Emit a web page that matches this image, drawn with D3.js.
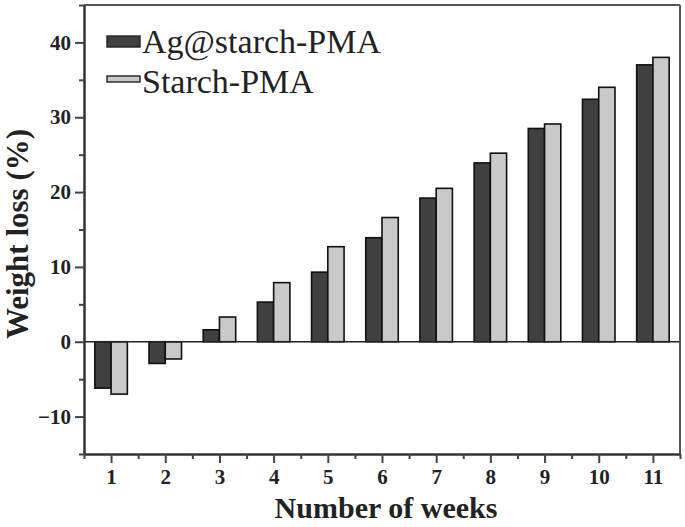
<!DOCTYPE html>
<html>
<head>
<meta charset="utf-8">
<script src="https://cdn.jsdelivr.net/npm/d3@7/dist/d3.min.js"></script>
<style>
html,body{margin:0;padding:0;background:#fff;}
svg{display:block;}
</style>
</head>
<body>
<svg id="chart" width="685" height="527"></svg>
<script>
// ---- data ----
const weeks = [1,2,3,4,5,6,7,8,9,10,11];
const seriesNames = ["Ag@starch-PMA", "Starch-PMA"];
const agStarchPMA = [-6.2, -2.9, 1.6, 5.3, 9.3, 13.9, 19.2, 23.9, 28.5, 32.4, 37.0];
const starchPMA   = [-7.0, -2.3, 3.3, 7.9, 12.7, 16.6, 20.5, 25.2, 29.1, 34.0, 38.0];
const yTicks = [-10, 0, 10, 20, 30, 40];
const yMinorTicks = [-15, -5, 5, 15, 25, 35, 45];
const xMinorTicks = [0.5, 1.5, 2.5, 3.5, 4.5, 5.5, 6.5, 7.5, 8.5, 9.5, 10.5, 11.5];
const xTitle = "Number of weeks";
const yTitle = "Weight loss (%)";

// ---- layout ----
const L = 84, R = 680, T = 5, B = 454;
const svg = d3.select("#chart");
const x = d3.scaleLinear().domain([0.5, 11.5]).range([L, R]);
const y = d3.scaleLinear().domain([-15, 45]).range([B, T]);
const barW = 0.3;
const colors = ["#404040", "#c9c9c9"];
const font = "'Liberation Serif', 'Times New Roman', serif";

const series = [agStarchPMA, starchPMA];

// bars
series.forEach((vals, si) => {
  svg.append("g").selectAll("rect")
    .data(weeks.map((w, i) => ({w, v: vals[i]})))
    .join("rect")
    .attr("x", d => x(si === 0 ? d.w - barW : d.w))
    .attr("width", x(barW) - x(0))
    .attr("y", d => y(Math.max(0, d.v)))
    .attr("height", d => Math.abs(y(d.v) - y(0)))
    .attr("fill", colors[si])
    .attr("stroke", "#111")
    .attr("stroke-width", 1.6);
});

// zero line
svg.append("line")
  .attr("x1", L).attr("x2", R).attr("y1", y(0)).attr("y2", y(0))
  .attr("stroke", "#222").attr("stroke-width", 1.6);

// frame top/right
svg.append("line").attr("x1", L).attr("x2", R).attr("y1", T).attr("y2", T)
  .attr("stroke", "#555").attr("stroke-width", 2);
svg.append("line").attr("x1", R).attr("x2", R).attr("y1", T).attr("y2", B)
  .attr("stroke", "#555").attr("stroke-width", 2);

// y axis
svg.append("g").attr("transform", `translate(${L},0)`)
  .call(d3.axisLeft(y).tickValues(yTicks).tickSize(9).tickPadding(4).tickSizeOuter(0));
svg.append("g").attr("transform", `translate(${L},0)`)
  .call(d3.axisLeft(y).tickValues(yMinorTicks).tickSize(5).tickFormat("").tickSizeOuter(0))
  .call(g => g.select(".domain").remove());

// x axis
svg.append("g").attr("transform", `translate(0,${B})`)
  .call(d3.axisBottom(x).tickValues(weeks).tickSize(9).tickPadding(6).tickSizeOuter(0).tickFormat(d3.format("d")));
svg.append("g").attr("transform", `translate(0,${B})`)
  .call(d3.axisBottom(x).tickValues(xMinorTicks).tickSize(5).tickFormat("").tickSizeOuter(0))
  .call(g => g.select(".domain").remove());

svg.selectAll(".domain").attr("stroke", "#333").attr("stroke-width", 2.5);
svg.selectAll(".tick line").attr("stroke", "#444").attr("stroke-width", 2);
svg.selectAll(".tick text")
  .attr("font-family", font).attr("font-weight", "bold")
  .attr("font-size", 21).attr("fill", "#222");

// axis titles
svg.append("text")
  .attr("x", 386).attr("y", 518)
  .attr("text-anchor", "middle")
  .attr("font-family", font).attr("font-weight", "bold").attr("font-size", 30).attr("fill", "#222")
  .text(xTitle);
svg.append("text")
  .attr("transform", `translate(28,${234}) rotate(-90)`)
  .attr("text-anchor", "middle")
  .attr("font-family", font).attr("font-weight", "bold").attr("font-size", 31).attr("fill", "#222")
  .text(yTitle);

// legend
const legend = svg.append("g");
const legendRows = [
  {name: seriesNames[0], color: colors[0], base: 53, sy: 36, sh: 11},
  {name: seriesNames[1], color: colors[1], base: 93, sy: 76, sh: 6}
];
legendRows.forEach(r => {
  legend.append("rect").attr("x", 107).attr("y", r.sy).attr("width", 33).attr("height", r.sh)
    .attr("fill", r.color).attr("stroke", "#222").attr("stroke-width", 1.4);
  legend.append("text").attr("x", 142).attr("y", r.base)
    .attr("font-family", font).attr("font-size", 34).attr("fill", "#222")
    .text(r.name);
});
</script>
</body>
</html>
